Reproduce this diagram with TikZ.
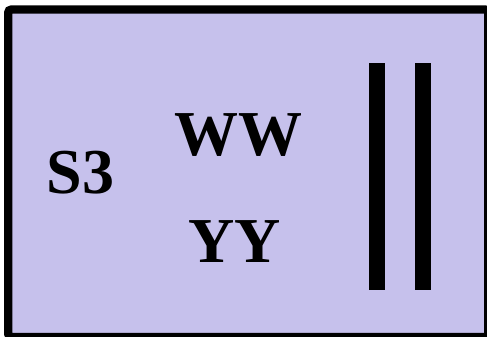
\documentclass[tikz,border=0pt]{standalone}
\usepackage{fontspec}
\setmainfont{Liberation Serif}
\definecolor{lav}{RGB}{198,193,236}
\begin{document}
\begin{tikzpicture}[x=1pt,y=-1pt,
  lbl/.style={font=\bfseries\fontsize{64}{64}\selectfont, anchor=base, inner sep=0pt},
  bar/.style={fill=black, draw=none}]
\useasboundingbox (0,0) rectangle (487,337);
\begin{scope}
\clip (0,0) rectangle (487,337);
\draw[line width=8.3pt, fill=lav, rounded corners=3pt] (8.2,9.6) rectangle (488.2,336.9);
\end{scope}
\node[lbl] (s3) at (80.3,193.3) {S3};
\node[lbl] (ww) at (238,155) {WW};
\node[lbl] (yy) at (234.5,262.7) {YY};
\fill[bar] (369,63) rectangle (385,290);
\fill[bar] (415,63) rectangle (431,290);
\end{tikzpicture}
\end{document}
